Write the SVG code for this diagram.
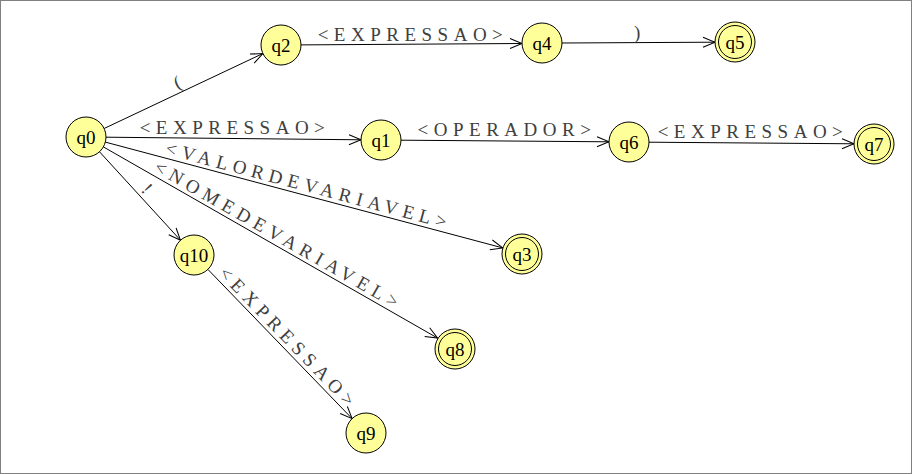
<svg xmlns="http://www.w3.org/2000/svg" width="912" height="474" viewBox="0 0 912 474">
<defs>
<marker id="arr" markerUnits="userSpaceOnUse" markerWidth="14" markerHeight="12" refX="13" refY="6" orient="auto" overflow="visible">
<path d="M1,1 L13,6 L1,11" fill="none" stroke="#000" stroke-width="1"/>
</marker>
<style>
.bg{fill:#fff;stroke:#808080;stroke-width:1}
.st{fill:#ffff99;stroke:#000;stroke-width:1}
.in{fill:none;stroke:#000;stroke-width:1}
.nl{font-family:"Liberation Serif","Times New Roman",serif;font-size:19px;fill:#000;text-anchor:middle}
.e line{stroke:#000;stroke-width:1;marker-end:url(#arr)}
.el{font-family:"Liberation Serif","Times New Roman",serif;font-size:19px;fill:#404040;text-anchor:middle;letter-spacing:5.5px}
</style>
</defs>
<rect class="bg" x="0.5" y="0.5" width="911" height="473"/>
<g id="connectors" class="e">
<line x1="104.1" y1="128.5" x2="262.9" y2="53.5"/>
<line x1="301" y1="44.9" x2="522" y2="43.5"/>
<line x1="562" y1="43" x2="715" y2="42.2"/>
<line x1="106" y1="137.2" x2="361" y2="139.8"/>
<line x1="401" y1="140.2" x2="609" y2="141.8"/>
<line x1="649" y1="142.2" x2="854" y2="143.8"/>
<line x1="105.3" y1="142.1" x2="502.7" y2="247.9"/>
<line x1="103.4" y1="146.9" x2="437.6" y2="338.1"/>
<line x1="99.5" y1="151.75" x2="180.5" y2="240.25"/>
<line x1="207.9" y1="269.4" x2="352.1" y2="418.6"/>
<text class="el" transform="translate(182.1,91.6) rotate(-25.26)" x="2.5" y="-4">(</text>
<text class="el" x="413" y="40.5">&lt;EXPRESSAO&gt;</text>
<text class="el" x="640" y="39">)</text>
<text class="el" x="235" y="134">&lt;EXPRESSAO&gt;</text>
<text class="el" x="507" y="136">&lt;OPERADOR&gt;</text>
<text class="el" x="753" y="138.3">&lt;EXPRESSAO&gt;</text>
<text class="el" transform="translate(303.3,194.8) rotate(14.9)" x="3" y="-4">&lt;VALORDEVARIAVEL&gt;</text>
<text class="el" transform="translate(271.3,243) rotate(29.76)" x="3" y="-4">&lt;NOMEDEVARIAVEL&gt;</text>
<text class="el" transform="translate(139.7,195.6) rotate(47.5)" x="2.5" y="-4">!</text>
<text class="el" transform="translate(279.4,343.4) rotate(45.97)" x="3" y="-4">&lt;EXPRESSAO&gt;</text>
</g>
<g id="q0"><circle class="st" cx="86" cy="137" r="20"/><text class="nl" x="86" y="143.5">q0</text></g>
<g id="q2"><circle class="st" cx="281" cy="45" r="20"/><text class="nl" x="281" y="51.5">q2</text></g>
<g id="q4"><circle class="st" cx="542" cy="43" r="20"/><text class="nl" x="542" y="49.5">q4</text></g>
<g id="q5"><circle class="st" cx="735" cy="42" r="20"/><circle class="in" cx="735" cy="42" r="16.5"/><text class="nl" x="735" y="48.5">q5</text></g>
<g id="q1"><circle class="st" cx="381" cy="140" r="20"/><text class="nl" x="381" y="146.5">q1</text></g>
<g id="q6"><circle class="st" cx="629" cy="142" r="20"/><text class="nl" x="629" y="148.5">q6</text></g>
<g id="q7"><circle class="st" cx="874" cy="144" r="20"/><circle class="in" cx="874" cy="144" r="16.5"/><text class="nl" x="874" y="150.5">q7</text></g>
<g id="q3"><circle class="st" cx="522" cy="254" r="20"/><circle class="in" cx="522" cy="254" r="16.5"/><text class="nl" x="522" y="260.5">q3</text></g>
<g id="q8"><circle class="st" cx="455" cy="349" r="20"/><circle class="in" cx="455" cy="349" r="16.5"/><text class="nl" x="455" y="355.5">q8</text></g>
<g id="q10"><circle class="st" cx="194" cy="255" r="20"/><text class="nl" x="194" y="261.5">q10</text></g>
<g id="q9"><circle class="st" cx="366" cy="433" r="20"/><text class="nl" x="366" y="439.5">q9</text></g>
</svg>
